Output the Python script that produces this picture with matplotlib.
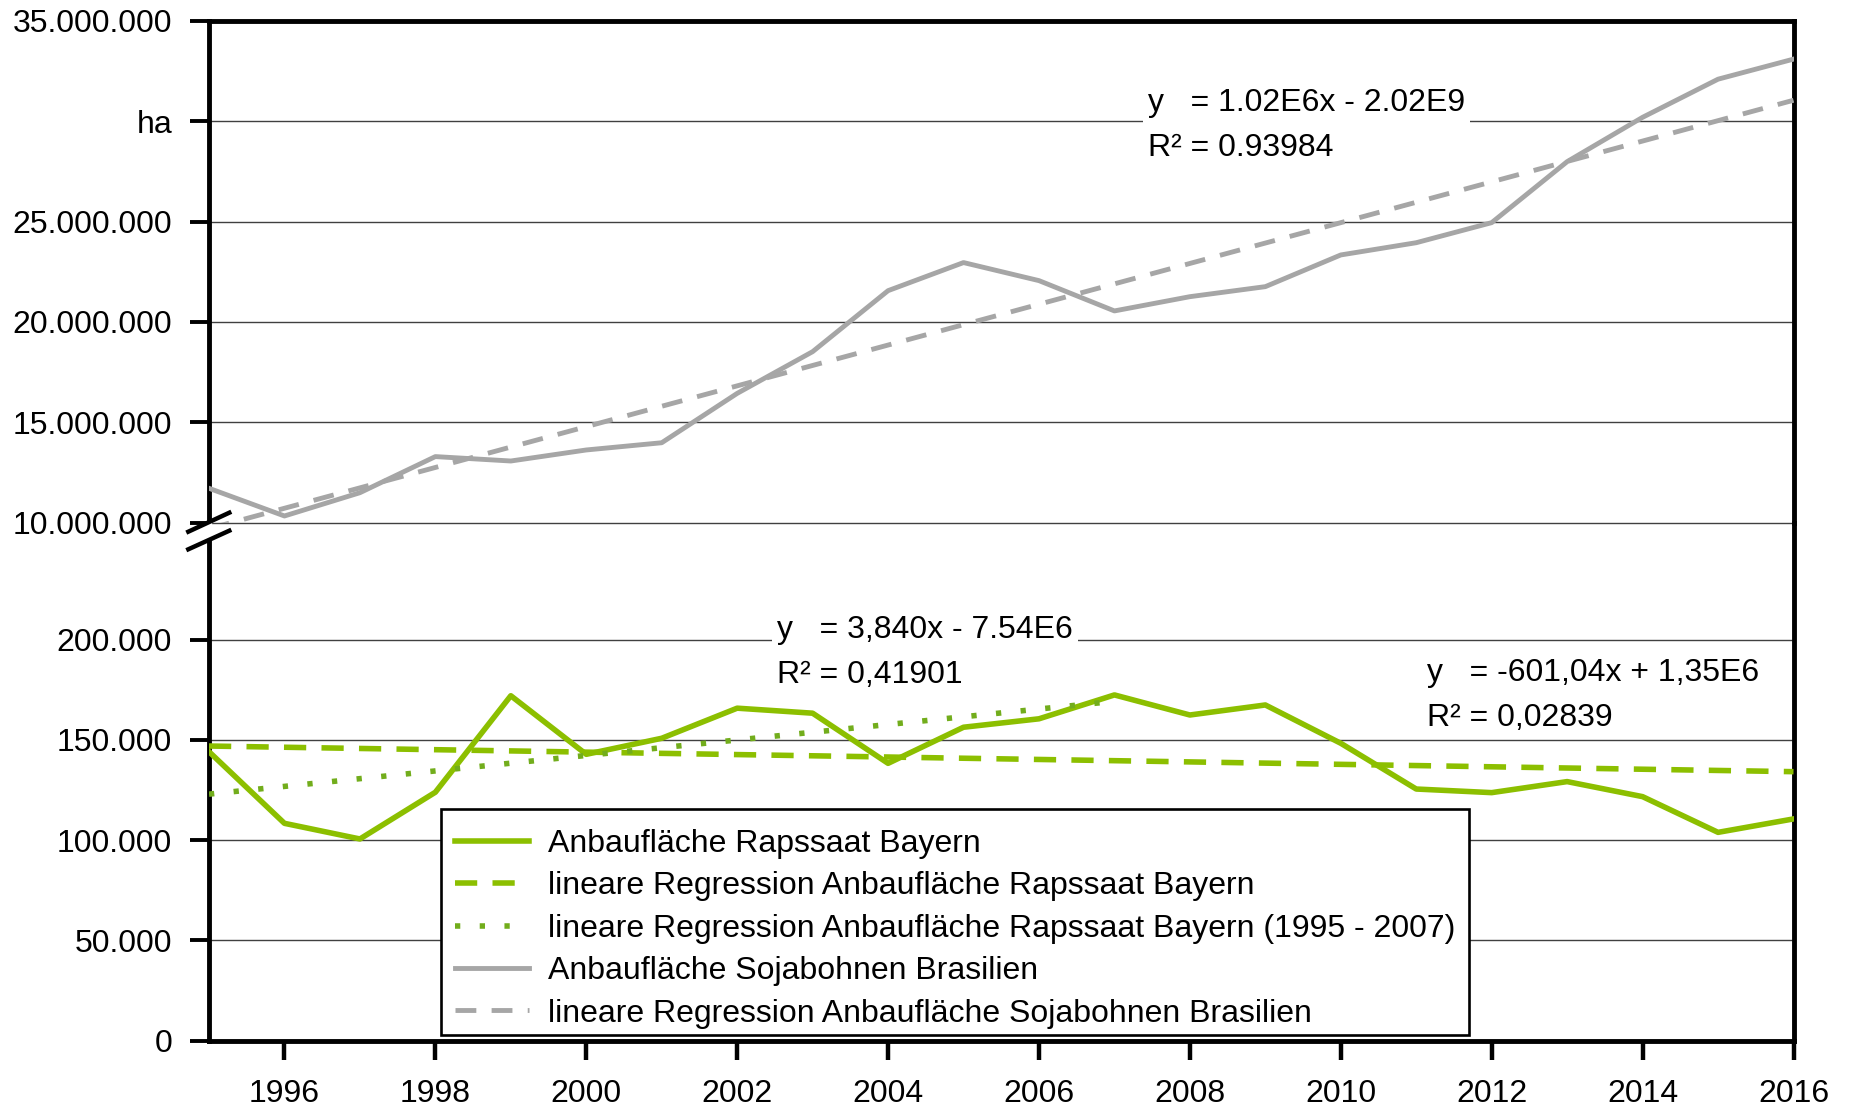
import matplotlib
matplotlib.use('Agg')
import matplotlib.pyplot as plt
import numpy as np
from matplotlib.lines import Line2D
from matplotlib.patches import Rectangle

plt.rcParams['font.family'] = ['Liberation Sans', 'DejaVu Sans']
plt.rcParams['lines.scale_dashes'] = False

# --- data ---
years = np.arange(1995, 2017)
raps_bayern = [144100, 108400, 100600, 123900, 172000, 142800, 150800, 165800,
               163300, 138300, 156300, 160500, 172400, 162400, 167400, 148300,
               125500, 123700, 129200, 121700, 103900, 110600]
soja_brasilien = [11710000, 10330000, 11490000, 13290000, 13070000, 13620000,
                  13980000, 16440000, 18520000, 21560000, 22960000, 22060000,
                  20550000, 21260000, 21760000, 23340000, 23950000, 24950000,
                  27990000, 30200000, 32100000, 33100000]
reg_short_end = 2007

lower_ticks = [0, 50000, 100000, 150000, 200000]
lower_ticklabels = ['0', '50.000', '100.000', '150.000', '200.000']
upper_ticks = [10e6, 15e6, 20e6, 25e6, 30e6, 35e6]
upper_ticklabels = ['10.000.000', '15.000.000', '20.000.000', '25.000.000', 'ha', '35.000.000']
x_ticks = list(range(1996, 2017, 2))

legend_labels = ['Anbaufläche Rapssaat Bayern',
                 'lineare Regression Anbaufläche Rapssaat Bayern',
                 'lineare Regression Anbaufläche Rapssaat Bayern (1995 - 2007)',
                 'Anbaufläche Sojabohnen Brasilien',
                 'lineare Regression Anbaufläche Sojabohnen Brasilien']
eq_soja = 'y   = 1.02E6x - 2.02E9\nR² = 0.93984'
eq_raps_short = 'y   = 3,840x - 7.54E6\nR² = 0,41901'
eq_raps = 'y   = -601,04x + 1,35E6\nR² = 0,02839'

green = '#8cbf00'
green_dot = '#72ad1c'
gray = '#a6a6a6'
W, H = 1850, 1107

# --- regressions ---
raps = np.array(raps_bayern, dtype=float)
soja = np.array(soja_brasilien, dtype=float)
p_raps = np.polyfit(years, raps, 1)
m = years <= reg_short_end
p_raps07 = np.polyfit(years[m], raps[m], 1)
p_soja = np.polyfit(years, soja, 1)


def fpos(px, py):
    return px / W, 1 - py / H


fig = plt.figure(figsize=(W / 100, H / 100), dpi=100)
left, right = 209 / W, 1793.5 / W
y_break = 1 - 522.6 / H
y_top = 1 - 21 / H
y_bot = 1 - 1040.8 / H
ax_top = fig.add_axes([left, y_break, right - left, y_top - y_break])
ax_bot = fig.add_axes([left, y_bot, right - left, y_break - y_bot])
ax_bot.patch.set_visible(False)

for ax in (ax_top, ax_bot):
    ax.set_xlim(1995, 2016)
    for s in ax.spines.values():
        s.set_linewidth(3.5)
        s.set_color('black')
    ax.yaxis.grid(True, color='#404040', lw=1.0)
    ax.set_axisbelow(True)
    ax.tick_params(axis='y', direction='out', length=14, width=2.8, pad=12.5,
                   labelsize=23, right=False)

ax_top.spines['bottom'].set_visible(False)
ax_bot.spines['top'].set_visible(False)
ax_top.set_ylim(10e6, 35e6)
ax_bot.set_ylim(0, 258300)
ax_top.set_yticks(upper_ticks, upper_ticklabels)
ax_bot.set_yticks(lower_ticks, lower_ticklabels)
for gl in ax_top.get_ygridlines():
    gl.set_clip_on(False)
ax_top.tick_params(axis='x', bottom=False, labelbottom=False, top=False)
ax_bot.set_xticks(x_ticks, [str(x) for x in x_ticks])
ax_bot.tick_params(axis='x', direction='out', length=14, width=3.2, pad=13.5,
                   labelsize=23, top=False)

# --- lines ---
l_raps, = ax_bot.plot(years, raps, color=green, lw=4.0, zorder=3)
l_raps_reg, = ax_bot.plot(years, np.polyval(p_raps, years), color=green, lw=4.0,
                          dashes=(16, 11), dash_capstyle='butt', zorder=4)
yr07 = years[m]
l_raps_reg07, = ax_bot.plot(yr07, np.polyval(p_raps07, yr07), color=green_dot, lw=4.0,
                            dashes=(3.8, 14), dash_capstyle='butt', zorder=4)
l_soja, = ax_top.plot(years, soja, color=gray, lw=3.5, zorder=3)
l_soja_reg, = ax_top.plot(years, np.polyval(p_soja, years), color=gray, lw=3.5,
                          dashes=(15, 11), dash_capstyle='butt', zorder=4)

# --- equations ---
box = dict(facecolor='white', edgecolor='none', pad=3.6)
for axx, xx, yy, txt in [(ax_top, 2007.445, 29.78e6, eq_soja),
                         (ax_bot, 2002.524, 193.5e3, eq_raps_short),
                         (ax_bot, 2011.139, 172.2e3, eq_raps)]:
    axx.text(xx, yy, txt, ha='left', va='center', fontsize=23,
             linespacing=1.63, bbox=box, zorder=6)

# --- legend (own frame so the rows sit where they do in the original) ---
frame = Rectangle(fpos(441, 1035), 1028 / W, 226 / H, transform=fig.transFigure,
                  facecolor='white', edgecolor='black', lw=1.9, zorder=6.5, clip_on=False)
ax_bot.add_patch(frame)
leg = ax_bot.legend([l_raps, l_raps_reg, l_raps_reg07, l_soja, l_soja_reg], legend_labels,
                    loc='lower left', bbox_to_anchor=fpos(441, 1043),
                    bbox_transform=fig.transFigure, borderaxespad=0, frameon=False,
                    fontsize=23, handlelength=2.3,
                    handletextpad=0.6, borderpad=0.45, labelspacing=0.39)
leg.set_zorder(7)

# --- axis break marks ---
gx, gy = zip(fpos(209, 526), fpos(209, 536))
fig.add_artist(Line2D(gx, gy, color='white', lw=4.5, transform=fig.transFigure))
for (x0, y0), (x1, y1) in [((188.3, 531.7), (229.3, 512.7)), ((188.3, 549.3), (229.3, 530.7))]:
    xs, ys = zip(fpos(x0, y0), fpos(x1, y1))
    fig.add_artist(Line2D(xs, ys, color='black', lw=3.2, transform=fig.transFigure))

fig.savefig('out.png', dpi=100)
